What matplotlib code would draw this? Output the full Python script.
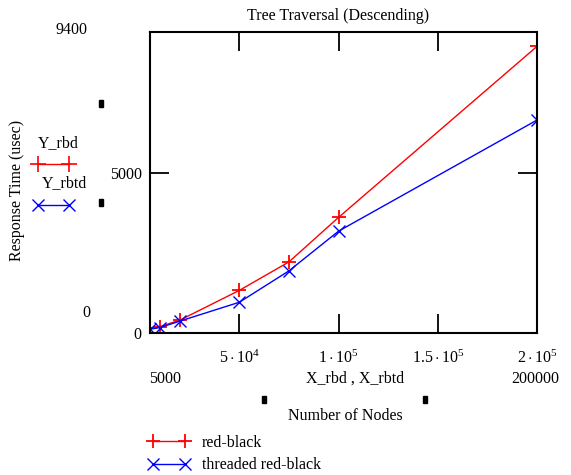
import matplotlib
matplotlib.use("Agg")
import matplotlib.pyplot as plt
from matplotlib.lines import Line2D
from matplotlib.patches import Rectangle

# ---- data ----
nodes = [5000, 10000, 20000, 50000, 75000, 100000, 200000]
y_rbd = [150, 200, 400, 1330, 2220, 3610, 8950]
y_rbtd = [120, 170, 370, 960, 1940, 3180, 6650]
x_ticks = [50000, 100000, 150000, 200000]
x_ticklabels = [r"$5\cdot10^{4}$", r"$1\cdot10^{5}$", r"$1.5\cdot10^{5}$", r"$2\cdot10^{5}$"]
y_ticks = [0, 5000]
y_ticklabels = ["0", "5000"]
title = "Tree Traversal (Descending)"
series_names = ["red-black", "threaded red-black"]

plt.rcParams['font.family'] = ['Liberation Serif', 'DejaVu Serif']
plt.rcParams['mathtext.fontset'] = 'custom'
plt.rcParams['mathtext.rm'] = 'Liberation Serif'
plt.rcParams['mathtext.it'] = 'Liberation Serif:italic'

W, H = 571, 475
fig = plt.figure(figsize=(W / 100, H / 100), dpi=100)

def fx(x):
    return x / W

def fy(y):
    return 1 - y / H

L, R, T, B = 150, 537, 32, 333
ax = fig.add_axes([fx(L), fy(B), (R - L) / W, (B - T) / H])

red = "#ff0000"
blue = "#0000ff"
ax.plot(nodes, y_rbd, color=red, lw=1.0, marker="+", ms=10, mew=1.3)
ax.plot(nodes, y_rbtd, color=blue, lw=1.0, marker="x", ms=8, mew=1.0)

ax.set_xlim(5000, 200000)
ax.set_ylim(0, 9400)
ax.set_xticks(x_ticks)
ax.set_xticklabels(x_ticklabels, fontsize=11.5)
ax.set_yticks(y_ticks)
ax.set_yticklabels(y_ticklabels, fontsize=11.5)
ax.tick_params(direction="in", length=14, width=1.3, top=True, right=True, pad=6)
ax.tick_params(axis="x", pad=12)
for s in ax.spines.values():
    s.set_linewidth(1.5)

fig.text(fx(338), fy(16), title, ha="center", va="center", fontsize=11.5)

fs = 11.5
# axis limit labels (Mathcad style)
fig.text(fx(72), fy(30), "9400", ha="center", va="center", fontsize=fs)
fig.text(fx(86), fy(313), "0", ha="center", va="center", fontsize=fs)
fig.text(fx(165), fy(379), "5000", ha="center", va="center", fontsize=fs)
fig.text(fx(535), fy(379), "200000", ha="center", va="center", fontsize=fs)
fig.text(fx(355), fy(379), "X_rbd , X_rbtd", ha="center", va="center", fontsize=fs)
fig.text(fx(345), fy(416), "Number of Nodes", ha="center", va="center", fontsize=fs)
fig.text(fx(17), fy(190), "Response Time (usec)", ha="center", va="center",
         rotation=90, fontsize=fs)

# y-axis expression labels
fig.text(fx(58), fy(143), "Y_rbd", ha="center", va="center", fontsize=fs)
fig.text(fx(64), fy(183), "Y_rbtd", ha="center", va="center", fontsize=fs)
fig.add_artist(Line2D([fx(38), fx(69)], [fy(164), fy(164)], transform=fig.transFigure,
                      color=red, lw=1.0, marker="+", ms=11, mew=1.2))
fig.add_artist(Line2D([fx(38), fx(69)], [fy(205), fy(205)], transform=fig.transFigure,
                      color=blue, lw=1.0, marker="x", ms=8, mew=1.0))

# small black squares (Mathcad placeholders)
for (cx, cy) in [(101, 103), (101, 203), (264, 399), (425, 399)]:
    fig.add_artist(Rectangle((fx(cx - 2), fy(cy + 3.5)), 4 / W, 7 / H,
                             transform=fig.transFigure, color="black"))

# bottom legend
h1 = Line2D([], [], color=red, lw=1.0, marker="+", ms=10, mew=1.3)
h2 = Line2D([], [], color=blue, lw=1.0, marker="x", ms=8, mew=1.0)
fig.legend([h1, h2], series_names, loc="upper left",
           bbox_to_anchor=(fx(148), fy(435)), frameon=False, numpoints=2,
           handlelength=2.6, fontsize=fs, labelspacing=0.4, handletextpad=0.75,
           borderaxespad=0, borderpad=0)

fig.savefig("out.png", dpi=100)
